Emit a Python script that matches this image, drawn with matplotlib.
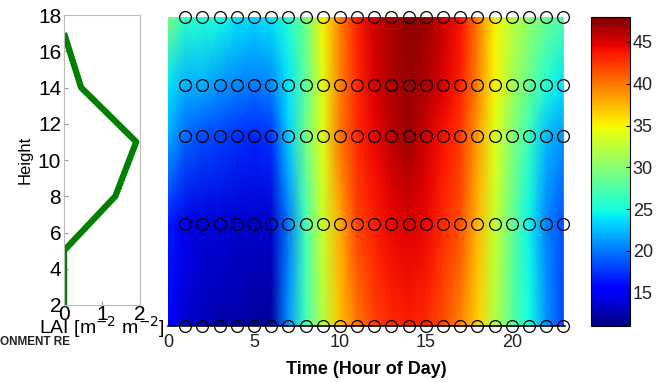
import numpy as np
import matplotlib.pyplot as plt

# canopy leaf area profile
lai_height = [2, 5, 8, 11, 14, 17]
lai_value = [0, 0, 1.35, 1.9, 0.45, 0]

# sensor heights (rows) and hours (columns)
sensor_height = [0.7, 6.4, 11.3, 14.1, 17.9]
hours = list(range(0, 24))
marker_hours = list(range(1, 24))

# temperature, one row per sensor height (bottom to top)
temp_h1 = [15.5, 13.5, 13, 12.5, 12.5, 12, 12, 21, 27, 32, 37, 40, 42, 43, 43.5, 43, 41.5, 39.5, 36.5, 32, 28, 25, 21, 18]
temp_h2 = [16.5, 14.5, 14, 14, 13.5, 13.5, 13.5, 20, 27, 33, 38, 42, 43.5, 44.5, 45, 44.5, 43, 41.5, 37.5, 33, 28.5, 24.5, 20.5, 18.5]
temp_h3 = [22, 19.5, 18.5, 18, 17.5, 17, 17.5, 23, 29, 34, 40, 43, 44.5, 46, 47, 45.5, 44, 42.5, 38.5, 34, 30, 26.5, 22.5, 21]
temp_h4 = [24, 22, 22, 21, 20.5, 20, 20.5, 24, 28, 34, 39.5, 43, 45, 46.5, 47, 46.5, 45, 43.5, 39.5, 35, 31.5, 28.5, 25.5, 24]
temp_h5 = [29.5, 26, 25.5, 25, 24, 23.5, 24, 25.5, 29, 35, 39.5, 43.5, 45.5, 46.5, 47.5, 47, 45.5, 44, 40, 35, 32.5, 30.5, 28.5, 27.5]

cbar_ticks = [15, 20, 25, 30, 35, 40, 45]

temp = np.array([temp_h1, temp_h2, temp_h3, temp_h4, temp_h5])

plt.rcParams['font.family'] = ['Liberation Sans', 'DejaVu Sans']

fig = plt.figure(figsize=(6.64, 3.83), dpi=100)

# ---- left panel: LAI profile
ax1 = fig.add_axes([0.0964, 0.2037, 0.1145, 0.757])
ax1.plot(lai_value, lai_height, color='#007f00', lw=4.5, solid_capstyle='butt')
ax1.set_xlim(0, 2)
ax1.set_ylim(2, 18)
ax1.set_yticks(range(2, 19, 2))
ax1.set_xticks([0, 1, 2])
ax1.tick_params(direction='in', length=3, labelsize=15, pad=2, color='#999999')
ax1.tick_params(axis='x', pad=0)
for s in ax1.spines.values():
    s.set_color('#bbbbbb')
    s.set_linewidth(0.8)
ax1.set_ylabel('Height', fontsize=12, labelpad=4)
ax1.set_xlabel('LAI [m$^{-2}$ m$^{-2}$]', fontsize=14, labelpad=-7)

# ---- main panel: temperature field
ax2 = fig.add_axes([0.253, 0.1488, 0.598, 0.807])
X, Y = np.meshgrid(hours, sensor_height)
mesh = ax2.pcolormesh(X, Y, temp, cmap='jet', vmin=11, vmax=48, shading='gouraud')
for h in sensor_height:
    ax2.plot(marker_hours, [h] * len(marker_hours), 'o', mfc='none', mec='black',
             ms=8.5, mew=0.9, clip_on=False)
ax2.set_xlim(0, 23.1)
ax2.set_ylim(sensor_height[0], sensor_height[-1])
ax2.set_yticks([])
ax2.set_xticks([0, 5, 10, 15, 20])
ax2.tick_params(axis='x', length=0, labelsize=13, labelcolor='#222222', pad=6)
for k in ['top', 'right', 'left']:
    ax2.spines[k].set_visible(False)
ax2.spines['bottom'].set_linewidth(1.2)
ax2.set_xlabel('Time (Hour of Day)', fontsize=13, fontweight='bold', labelpad=7)

# ---- colorbar
cax = fig.add_axes([0.890, 0.1488, 0.0587, 0.807])
cb = fig.colorbar(mesh, cax=cax, ticks=cbar_ticks)
cb.ax.tick_params(labelsize=13, labelcolor='#222222', direction='in', length=3, pad=2)
cb.outline.set_linewidth(0.8)

fig.text(0.0, 0.1, 'ONMENT RE', fontsize=8.5, fontweight='bold', color='#222222')

fig.savefig('out.png', dpi=100)
